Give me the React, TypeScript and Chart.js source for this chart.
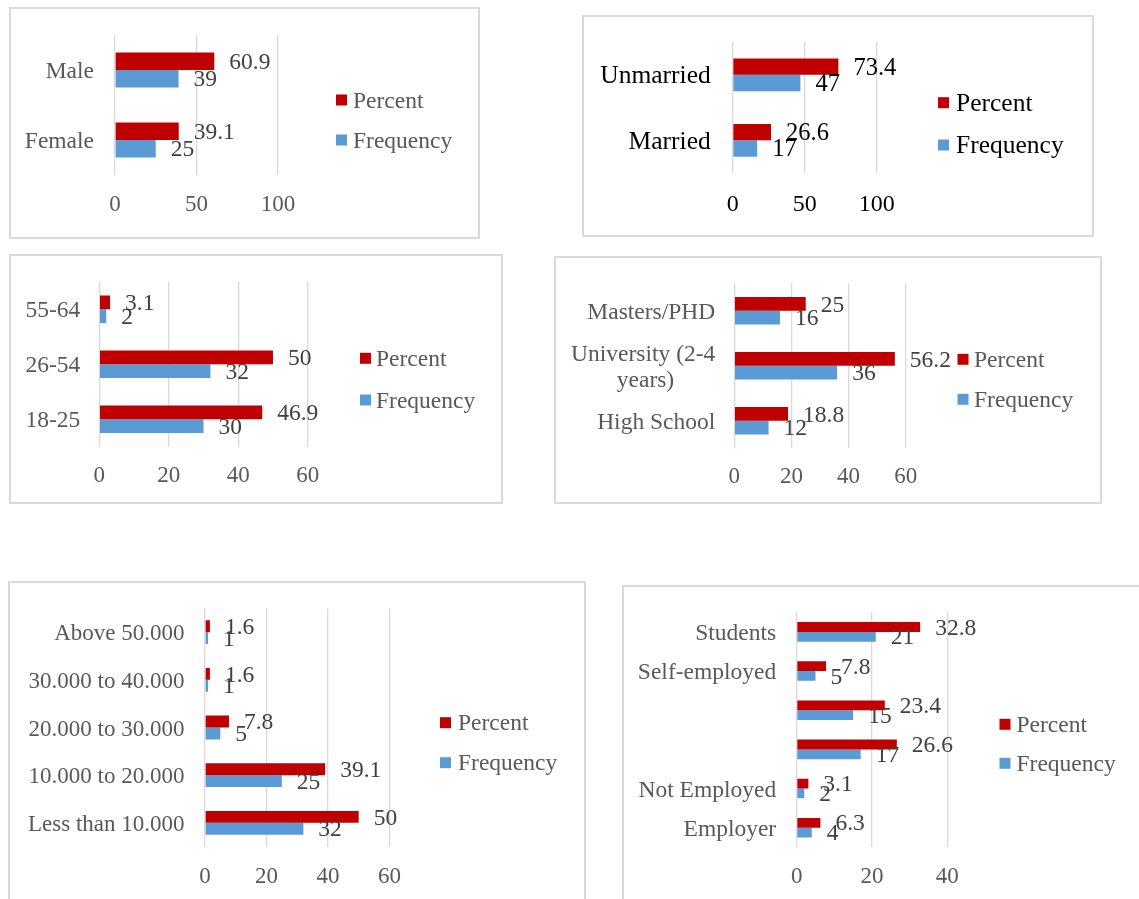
import React, { useEffect, useRef } from "react";
import { Chart, registerables } from "chart.js";

Chart.register(...registerables);

const FONT = "'Liberation Serif', 'Times New Roman', serif";

// ---------- data ----------
const SERIES_NAMES = ["Percent", "Frequency"];
const SERIES_COLORS = ["#C00000", "#5B9BD5"];

const genderCategories = ["Male", "Female"];
const genderPercent = [60.9, 39.1];
const genderFrequency = [39, 25];
const genderTicks = [0, 50, 100];

const maritalCategories = ["Unmarried", "Married"];
const maritalPercent = [73.4, 26.6];
const maritalFrequency = [47, 17];
const maritalTicks = [0, 50, 100];

const ageCategories = ["55-64", "26-54", "18-25"];
const agePercent = [3.1, 50, 46.9];
const ageFrequency = [2, 32, 30];
const ageTicks = [0, 20, 40, 60];

const educationCategories: (string | string[])[] = ["Masters/PHD", ["University (2-4", "years)"], "High School"];
const educationPercent = [25, 56.2, 18.8];
const educationFrequency = [16, 36, 12];
const educationTicks = [0, 20, 40, 60];

const incomeCategories = ["Above 50.000", "30.000 to 40.000", "20.000 to 30.000", "10.000 to 20.000", "Less than 10.000"];
const incomePercent = [1.6, 1.6, 7.8, 39.1, 50];
const incomeFrequency = [1, 1, 5, 25, 32];
const incomeTicks = [0, 20, 40, 60];

const occupationCategories = ["Students", "Self-employed", "", "", "Not Employed", "Employer"];
const occupationPercent = [32.8, 7.8, 23.4, 26.6, 3.1, 6.3];
const occupationFrequency = [21, 5, 15, 17, 2, 4];
const occupationTicks = [0, 20, 40];

// ---------- layout (page coordinates) ----------
type Layout = {
  box: [number, number, number, number];
  plot: [number, number, number, number];
  catFont: number;
  tickFont: number;
  valueFont: number;
  legendFont: number;
  catColor: string;
  tickColor: string;
  valueColor: string;
  legendColor: string;
  catGap: number;
  tickY: number;
  markerX: number;
  textX: number;
  legendYs: [number, number];
  catLineHeight?: number;
};

const GRAY = "#595959";
const DARK = "#404040";

const layouts: Record<string, Layout> = {
  gender: {
    box: [10, 8, 469, 230], plot: [115, 35, 278, 175],
    catFont: 23.5, tickFont: 23, valueFont: 23.5, legendFont: 23.5,
    catColor: GRAY, tickColor: GRAY, valueColor: DARK, legendColor: GRAY,
    catGap: 21, tickY: 203, markerX: 336, textX: 353, legendYs: [100, 140],
  },
  marital: {
    box: [583, 16, 510, 220], plot: [732.7, 42, 876.7, 173],
    catFont: 25.5, tickFont: 24, valueFont: 24.5, legendFont: 25.5,
    catColor: "#000", tickColor: "#000", valueColor: "#000", legendColor: "#000",
    catGap: 22, tickY: 203, markerX: 938, textX: 956, legendYs: [102.7, 145],
  },
  age: {
    box: [10, 255, 492, 248], plot: [99.3, 281.7, 307.7, 446.7],
    catFont: 23.5, tickFont: 23, valueFont: 23.5, legendFont: 23.5,
    catColor: GRAY, tickColor: GRAY, valueColor: DARK, legendColor: GRAY,
    catGap: 19, tickY: 474, markerX: 360, textX: 376, legendYs: [358.3, 400],
  },
  education: {
    box: [555, 257, 546, 246], plot: [734.3, 283.3, 905.7, 448.3],
    catFont: 23.5, tickFont: 23, valueFont: 23.5, legendFont: 23.5,
    catColor: GRAY, tickColor: GRAY, valueColor: DARK, legendColor: GRAY,
    catGap: 19, tickY: 475, markerX: 957.5, textX: 974, legendYs: [359.3, 399.3],
    catLineHeight: 1.08,
  },
  income: {
    box: [9, 582, 576, 330], plot: [205, 608.3, 389.4, 846.7],
    catFont: 23, tickFont: 23, valueFont: 23.5, legendFont: 23.5,
    catColor: GRAY, tickColor: GRAY, valueColor: DARK, legendColor: GRAY,
    catGap: 20.5, tickY: 875, markerX: 440, textX: 458, legendYs: [722.7, 762.7],
  },
  occupation: {
    box: [623, 586, 530, 330], plot: [796.7, 612.3, 947.3, 847.3],
    catFont: 23.5, tickFont: 23, valueFont: 23.5, legendFont: 23.5,
    catColor: GRAY, tickColor: GRAY, valueColor: DARK, legendColor: GRAY,
    catGap: 20.5, tickY: 875, markerX: 999.5, textX: 1016.5, legendYs: [724.3, 763.3],
  },
};

// ---------- helpers / plugins ----------
let measureCtx: CanvasRenderingContext2D | null = null;
function centerLines(lines: string[], font: string): string[] {
  if (!measureCtx) measureCtx = document.createElement("canvas").getContext("2d");
  const ctx = measureCtx!;
  ctx.font = font;
  const widths = lines.map((l) => ctx.measureText(l).width);
  const max = Math.max(...widths);
  const sp = ctx.measureText("\u00A0").width || 1;
  return lines.map((l, i) => l + "\u00A0".repeat(Math.round((max - widths[i]) / 2 / sp)));
}

const valueLabelPlugin = {
  id: "valueLabels",
  afterDatasetsDraw(chart: any, _args: any, opts: any) {
    const ctx = chart.ctx;
    ctx.save();
    ctx.font = `${opts.size}px ${FONT}`;
    ctx.fillStyle = opts.color;
    ctx.textBaseline = "middle";
    ctx.textAlign = "left";
    chart.data.datasets.forEach((ds: any, i: number) => {
      chart.getDatasetMeta(i).data.forEach((el: any, j: number) => {
        ctx.fillText(String(ds.data[j]), el.x + opts.offset, el.y + opts.dy);
      });
    });
    ctx.restore();
  },
};

const sideLegendPlugin = {
  id: "sideLegend",
  afterDraw(chart: any, _args: any, opts: any) {
    const ctx = chart.ctx;
    ctx.save();
    ctx.font = `${opts.size}px ${FONT}`;
    ctx.textBaseline = "middle";
    ctx.textAlign = "left";
    chart.data.datasets.forEach((ds: any, i: number) => {
      const y = opts.ys[i];
      ctx.fillStyle = ds.backgroundColor;
      ctx.fillRect(opts.markerX, y - opts.markerSize / 2, opts.markerSize, opts.markerSize);
      ctx.fillStyle = opts.color;
      ctx.fillText(ds.label, opts.textX, y + opts.dy);
    });
    ctx.restore();
  },
};

type PanelProps = {
  layout: Layout;
  categories: (string | string[])[];
  percent: number[];
  frequency: number[];
  ticks: number[];
};

function Panel({ layout, categories, percent, frequency, ticks }: PanelProps) {
  const ref = useRef<HTMLCanvasElement>(null);
  const [bx, by, bw, bh] = layout.box;

  useEffect(() => {
    const [pl, pt, pr, pb] = layout.plot;
    const xAxisH = 50;
    const catFontStr = `${layout.catFont}px ${FONT}`;
    const chart = new Chart(ref.current as HTMLCanvasElement, {
      type: "bar",
      data: {
        labels: categories as any,
        datasets: [
          {
            label: SERIES_NAMES[0], data: percent, backgroundColor: SERIES_COLORS[0],
            categoryPercentage: 0.5, barPercentage: 1, borderWidth: 0,
          },
          {
            label: SERIES_NAMES[1], data: frequency, backgroundColor: SERIES_COLORS[1],
            categoryPercentage: 0.5, barPercentage: 1, borderWidth: 0,
          },
        ],
      },
      options: {
        indexAxis: "y",
        responsive: false,
        maintainAspectRatio: false,
        animation: false,
        devicePixelRatio: 1,
        layout: {
          padding: {
            left: 0,
            top: pt - by,
            right: bx + bw - pr,
            bottom: by + bh - pb - xAxisH,
          },
        },
        scales: {
          x: {
            type: "linear",
            min: ticks[0],
            max: ticks[ticks.length - 1],
            afterBuildTicks: (axis: any) => {
              axis.ticks = ticks.map((v) => ({ value: v }));
            },
            afterFit: (axis: any) => {
              axis.height = xAxisH;
              axis.paddingLeft = 0;
              axis.paddingRight = 0;
            },
            grid: { color: "#D9D9D9", lineWidth: 1.3, drawTicks: false },
            border: { display: false },
            ticks: {
              padding: layout.tickY - pb - 0.6 * layout.tickFont + 2,
              color: layout.tickColor,
              font: { family: FONT, size: layout.tickFont },
              autoSkip: false,
              maxRotation: 0,
            },
          },
          y: {
            afterFit: (axis: any) => {
              axis.width = pl - bx;
              axis.paddingTop = 0;
              axis.paddingBottom = 0;
            },
            grid: { display: false, drawTicks: false },
            border: { display: false },
            ticks: {
              padding: layout.catGap,
              labelOffset: 2,
              color: layout.catColor,
              autoSkip: false,
              font: { family: FONT, size: layout.catFont, lineHeight: layout.catLineHeight ?? 1.2 },
              callback: (_v: any, i: number) => {
                const lbl = categories[i];
                return Array.isArray(lbl) ? centerLines(lbl, catFontStr) : lbl;
              },
            },
          },
        },
        plugins: {
          legend: { display: false },
          tooltip: { enabled: false },
          valueLabels: { size: layout.valueFont, color: layout.valueColor, offset: 15, dy: 1.5 },
          sideLegend: {
            size: layout.legendFont,
            color: layout.legendColor,
            markerX: layout.markerX - bx,
            textX: layout.textX - bx,
            ys: layout.legendYs.map((y) => y - by),
            markerSize: 11,
            dy: 1.5,
          },
        } as any,
      },
      plugins: [valueLabelPlugin, sideLegendPlugin],
    } as any);
    return () => chart.destroy();
  }, []);

  return (
    <>
      <div
        style={{
          position: "absolute",
          left: bx - 1,
          top: by - 1,
          width: bw + 2,
          height: bh + 2,
          border: "2px solid #DADADA",
          boxSizing: "border-box",
        }}
      />
      <canvas
        ref={ref}
        width={bw}
        height={bh}
        style={{ position: "absolute", left: bx, top: by, width: bw, height: bh }}
      />
    </>
  );
}

export default function App() {
  return (
    <div
      style={{
        position: "absolute",
        left: 0,
        top: 0,
        width: 1139,
        height: 899,
        overflow: "hidden",
        background: "#fff",
      }}
    >
      <Panel layout={layouts.gender} categories={genderCategories} percent={genderPercent} frequency={genderFrequency} ticks={genderTicks} />
      <Panel layout={layouts.marital} categories={maritalCategories} percent={maritalPercent} frequency={maritalFrequency} ticks={maritalTicks} />
      <Panel layout={layouts.age} categories={ageCategories} percent={agePercent} frequency={ageFrequency} ticks={ageTicks} />
      <Panel layout={layouts.education} categories={educationCategories} percent={educationPercent} frequency={educationFrequency} ticks={educationTicks} />
      <Panel layout={layouts.income} categories={incomeCategories} percent={incomePercent} frequency={incomeFrequency} ticks={incomeTicks} />
      <Panel layout={layouts.occupation} categories={occupationCategories} percent={occupationPercent} frequency={occupationFrequency} ticks={occupationTicks} />
    </div>
  );
}
